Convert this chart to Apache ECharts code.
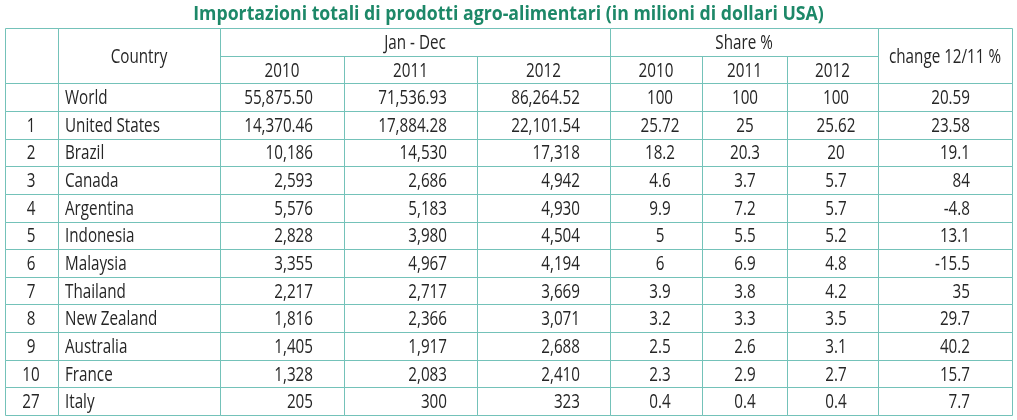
<!DOCTYPE html>
<html><head><meta charset="utf-8">
<script src="https://cdn.jsdelivr.net/npm/echarts@6/dist/echarts.min.js"></script>
<style>html,body{margin:0;padding:0;background:#fff}#c{width:1017px;height:420px}</style>
</head><body><div id="c"></div>
<script>
// ---------- data ----------
const titleText = 'Importazioni totali di prodotti agro-alimentari (in milioni di dollari USA)';
const headCountry = 'Country';
const headPeriod = 'Jan - Dec';
const headShare = 'Share %';
const headChange = 'change 12/11 %';
const years = ['2010', '2011', '2012'];
const ranks = ['', '1', '2', '3', '4', '5', '6', '7', '8', '9', '10', '27'];
const countries = ['World', 'United States', 'Brazil', 'Canada', 'Argentina', 'Indonesia', 'Malaysia', 'Thailand', 'New Zealand', 'Australia', 'France', 'Italy'];
const imp2010 = [55875.50, 14370.46, 10186, 2593, 5576, 2828, 3355, 2217, 1816, 1405, 1328, 205];
const imp2011 = [71536.93, 17884.28, 14530, 2686, 5183, 3980, 4967, 2717, 2366, 1917, 2083, 300];
const imp2012 = [86264.52, 22101.54, 17318, 4942, 4930, 4504, 4194, 3669, 3071, 2688, 2410, 323];
const share2010 = [100, 25.72, 18.2, 4.6, 9.9, 5, 6, 3.9, 3.2, 2.5, 2.3, 0.4];
const share2011 = [100, 25, 20.3, 3.7, 7.2, 5.5, 6.9, 3.8, 3.3, 2.6, 2.9, 0.4];
const share2012 = [100, 25.62, 20, 5.7, 5.7, 5.2, 4.8, 4.2, 3.5, 3.1, 2.7, 0.4];
const change1211 = [20.59, 23.58, 19.1, 84, -4.8, 13.1, -15.5, 35, 29.7, 40.2, 15.7, 7.7];

// ---------- layout (table units) ----------
const colEdges = [0, 53, 215, 339, 472, 605, 697, 782, 873, 1007];
const anchors = { rank: 26, country: 60, imp: [308, 442, 575], share: [655, 740, 831], change: 965 };
const BORDER = '#74c2b9';
const TXT = '#262626';
const FONT_FAMILY = '"Open Sans","Noto Sans",sans-serif';
const FS = 19.5, SX = 0.78;

function fmtImp(v) {
  const dec = Number.isInteger(v) ? 0 : 2;
  return v.toLocaleString('en-US', { minimumFractionDigits: dec, maximumFractionDigits: dec });
}

const cells = [];
function add(c0, c1, r0, r1, text, align, ax) {
  cells.push({ c0, c1, r0, r1, text, align, ax });
}
const mid = (a, b) => (colEdges[a] + colEdges[b]) / 2;
// header
add(0, 1, 0, 2, '', 'center', mid(0, 1));
add(1, 2, 0, 2, headCountry, 'center', mid(1, 2));
add(2, 5, 0, 1, headPeriod, 'center', mid(2, 5));
add(5, 8, 0, 1, headShare, 'center', mid(5, 8));
add(8, 9, 0, 2, headChange, 'center', mid(8, 9));
years.forEach((y, i) => add(2 + i, 3 + i, 1, 2, y, 'center', mid(2 + i, 3 + i)));
years.forEach((y, i) => add(5 + i, 6 + i, 1, 2, y, 'center', mid(5 + i, 6 + i)));
// body
countries.forEach((name, i) => {
  const r = 2 + i;
  add(0, 1, r, r + 1, ranks[i], 'center', anchors.rank);
  add(1, 2, r, r + 1, name, 'left', anchors.country);
  [imp2010, imp2011, imp2012].forEach((arr, k) => add(2 + k, 3 + k, r, r + 1, fmtImp(arr[i]), 'right', anchors.imp[k]));
  [share2010, share2011, share2012].forEach((arr, k) => add(5 + k, 6 + k, r, r + 1, String(arr[i]), 'center', anchors.share[k]));
  add(8, 9, r, r + 1, String(change1211[i]), 'right', anchors.change);
});
const nRows = 2 + countries.length;

const chart = echarts.init(document.getElementById('c'), null, { renderer: 'canvas' });
const crisp = v => Math.round(v) + 0.5;

chart.setOption({
  animation: false,
  backgroundColor: '#fff',
  graphic: [{
    type: 'text', x: 508.5, y: 14, scaleX: 0.885, silent: true,
    style: {
      text: titleText, fill: '#1d8868', fontWeight: 'bold', fontSize: 20,
      fontFamily: FONT_FAMILY, align: 'center', verticalAlign: 'middle',
      textAlign: 'center', textVerticalAlign: 'middle'
    }
  }],
  grid: { left: 5, right: 5, top: 28, bottom: 5 },
  xAxis: { type: 'value', min: 0, max: colEdges[colEdges.length - 1], show: false },
  yAxis: { type: 'value', min: 0, max: nRows, inverse: true, show: false },
  series: [{
    type: 'custom',
    silent: true,
    encode: { x: [0, 2], y: [1, 3] },
    data: cells.map(c => [colEdges[c.c0], c.r0, colEdges[c.c1], c.r1]),
    renderItem: function (params, api) {
      const cell = cells[params.dataIndex];
      const p0 = api.coord([api.value(0), api.value(1)]);
      const p1 = api.coord([api.value(2), api.value(3)]);
      const x0 = crisp(p0[0]), y0 = crisp(p0[1]), x1 = crisp(p1[0]), y1 = crisp(p1[1]);
      const tx = api.coord([cell.ax, 0])[0];
      const ty = (p0[1] + p1[1]) / 2 + 1.5;
      return {
        type: 'group',
        children: [
          { type: 'rect', shape: { x: x0, y: y0, width: x1 - x0, height: y1 - y0 },
            style: { fill: 'none', stroke: BORDER, lineWidth: 1 } },
          { type: 'text', x: tx, y: ty, scaleX: SX,
            style: { text: cell.text, fill: TXT, fontSize: FS, fontFamily: FONT_FAMILY,
              align: cell.align, verticalAlign: 'middle',
              textAlign: cell.align, textVerticalAlign: 'middle' } }
        ]
      };
    }
  }]
});
</script></body></html>
